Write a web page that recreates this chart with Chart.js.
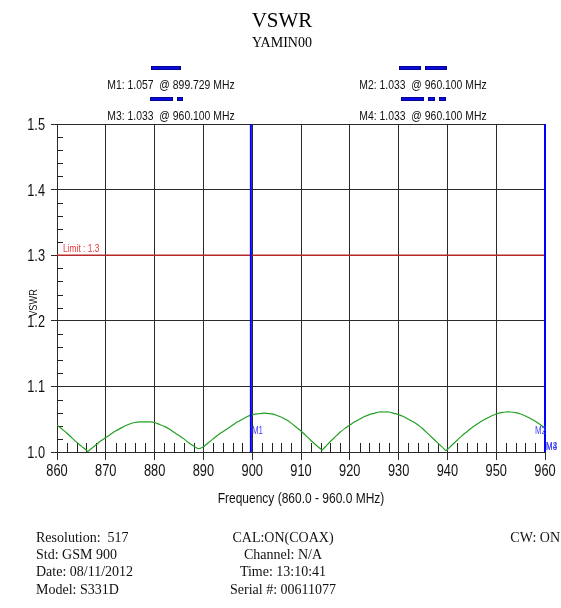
<!DOCTYPE html>
<html><head><meta charset="utf-8">
<script src="https://cdn.jsdelivr.net/npm/chart.js@4.4.1/dist/chart.umd.min.js"></script>
<style>html,body{margin:0;padding:0;background:#fff;}#wrap{width:561px;height:608px;}</style>
</head><body><div id="wrap"><canvas id="c" width="561" height="608"></canvas></div>
<script>
// ---- data ----
const freqMHz = [860,861,862,863,864,865,866,866.3,867,868,869,870,871,872,873,874,875,876,877,878,879,880,881,882,883,884,885,886,887,888,889,
  890,891,892,893,894,895,896,897,898,899,900,901,902,903,904,905,906,907,908,909,910,911,912,913,914,914.3,
  915,916,917,918,919,920,921,922,923,924,925,926,927,928,929,930,931,932,933,934,935,936,937,938,939,939.7,
  940,941,942,943,944,945,946,947,948,949,950,951,952,953,954,955,956,957,958,959,960];
const vswr = [1.041,1.035,1.029,1.022,1.015,1.009,1.003,1.001,1.005,1.011,1.017,1.022,1.027,1.032,1.036,1.040,1.043,1.045,1.046,1.046,1.046,1.045,1.042,1.039,1.035,1.030,1.025,1.020,1.014,1.009,1.005,
  1.008,1.014,1.020,1.026,1.031,1.036,1.041,1.046,1.050,1.054,1.057,1.058,1.059,1.059,1.058,1.056,1.053,1.049,1.044,1.038,1.032,1.025,1.018,1.011,1.005,1.003,
  1.008,1.016,1.023,1.030,1.036,1.041,1.046,1.050,1.054,1.057,1.059,1.061,1.061,1.061,1.059,1.057,1.054,1.050,1.046,1.041,1.035,1.028,1.021,1.014,1.007,1.002,
  1.004,1.011,1.018,1.025,1.031,1.037,1.042,1.047,1.051,1.055,1.058,1.060,1.061,1.061,1.060,1.058,1.055,1.051,1.047,1.042,1.036];
const limitFreq = [860, 960];
const limitVswr = [1.3, 1.3];
const xTickValues = [860,870,880,890,900,910,920,930,940,950,960];
const yTickValues = [1.0,1.1,1.2,1.3,1.4,1.5];
const markerNames = ['M1','M2','M3','M4'];
const markerValues = [1.057, 1.033, 1.033, 1.033];
const markerFreqs = [899.729, 960.100, 960.100, 960.100];
const chartTitle = 'VSWR';
const chartSubtitle = 'YAMIN00';
const xTitle = 'Frequency (860.0 - 960.0 MHz)';
const yTitle = 'VSWR';
const limitLabel = 'Limit : 1.3';
const infoLeft = ['Resolution:  517','Std: GSM 900','Date: 08/11/2012','Model: S331D'];
const infoCenter = ['CAL:ON(COAX)','Channel: N/A','Time: 13:10:41','Serial #: 00611077'];
const infoRight = ['CW: ON'];

// ---- font detection ----
const mctx = document.createElement('canvas').getContext('2d');
mctx.font = "40px monospace"; const wMono = mctx.measureText('Frequency 860').width;
mctx.font = "40px 'Liberation Sans Narrow', monospace"; const wNar = mctx.measureText('Frequency 860').width;
const HAS_NARROW = Math.abs(wMono - wNar) > 1;
const SANS = HAS_NARROW ? "'Liberation Sans Narrow'" : "'Liberation Sans', Arial, sans-serif";
const SX = HAS_NARROW ? 1 : 0.8;
const SERIF = "'Liberation Serif', 'Times New Roman', serif";

function sText(ctx, txt, x, y, size, align, color) {
  ctx.save();
  ctx.font = size + 'px ' + SANS;
  ctx.fillStyle = color; ctx.textBaseline = 'alphabetic';
  ctx.translate(x, y); ctx.scale(SX, 1);
  ctx.textAlign = align;
  ctx.fillText(txt, 0, 0);
  ctx.restore();
}

const BLUE = '#0000ff';
const deco = {
  id: 'deco',
  beforeDatasetsDraw(chart) {
    const ctx = chart.ctx, xs = chart.scales.x, ys = chart.scales.y;
    const a = chart.chartArea;
    ctx.save();
    ctx.strokeStyle = '#222'; ctx.lineWidth = 1;
    ctx.beginPath();
    for (let f = xs.min + 2; f < xs.max; f += 2) {
      if (Math.round(f) % 10 === 0) continue;
      const px = Math.round(xs.getPixelForValue(f)) + 0.5;
      ctx.moveTo(px, a.bottom); ctx.lineTo(px, a.bottom - 9);
    }
    for (let k = 1; k < 25; k++) {
      if (k % 5 === 0) continue;
      const v = ys.min + k * 0.02;
      const py = Math.round(ys.getPixelForValue(v)) + 0.5;
      ctx.moveTo(a.left, py); ctx.lineTo(a.left + 6, py);
    }
    ctx.stroke();
    ctx.restore();
  },
  afterDraw(chart) {
    const ctx = chart.ctx, xs = chart.scales.x, ys = chart.scales.y;
    const a = chart.chartArea;
    // tick labels (condensed), placed by the library's scales
    xs.ticks.forEach(t => sText(ctx, String(t.value), xs.getPixelForValue(t.value), a.bottom + 24, 16, 'center', '#111'));
    ys.ticks.forEach(t => sText(ctx, Number(t.value).toFixed(1), 45, ys.getPixelForValue(t.value) + 6, 16, 'right', '#111'));
    // marker lines
    ctx.save();
    ctx.strokeStyle = BLUE; ctx.lineWidth = 2;
    markerFreqs.forEach(f => {
      const fc = Math.min(Math.max(f, xs.min), xs.max);
      const px = xs.getPixelForValue(fc);
      ctx.beginPath(); ctx.moveTo(px, a.top); ctx.lineTo(px, a.bottom); ctx.stroke();
    });
    ctx.restore();
    // marker labels on plot
    const mcol = '#4040ff';
    const m1x = xs.getPixelForValue(markerFreqs[0]);
    sText(ctx, markerNames[0], m1x + 1, ys.getPixelForValue(1.027), 10, 'left', mcol);
    sText(ctx, markerNames[1], a.right - 10, ys.getPixelForValue(1.027), 10, 'left', mcol);
    sText(ctx, markerNames[2], a.right + 1, ys.getPixelForValue(1.003), 10, 'left', mcol);
    sText(ctx, markerNames[3], a.right + 1, ys.getPixelForValue(1.003), 10, 'left', mcol);
    // limit label
    sText(ctx, limitLabel, a.left + 6, ys.getPixelForValue(1.3) - 3, 10.5, 'left', '#e8383a');

    // titles
    ctx.save();
    ctx.fillStyle = '#000'; ctx.textAlign = 'center';
    ctx.font = '21px ' + SERIF; ctx.fillText(chartTitle, 282, 27);
    ctx.font = '14px ' + SERIF; ctx.fillText(chartSubtitle, 282, 47);
    ctx.restore();

    // marker header
    const hdr = (i, cx, y) => sText(ctx, markerNames[i] + ': ' + markerValues[i].toFixed(3) + '  @ ' + markerFreqs[i].toFixed(3) + ' MHz', cx, y, 13, 'center', '#111');
    const bar = (x, y, w) => { ctx.fillStyle = '#0a0ae0'; ctx.fillRect(x, y, w, 4); ctx.strokeStyle='#000060'; ctx.lineWidth=0.6; ctx.strokeRect(x+0.3,y+0.3,w-0.6,3.4); };
    bar(151, 66, 30);
    hdr(0, 171, 89);
    bar(150, 97, 23); bar(177, 97, 6);
    hdr(2, 171, 120);
    bar(399, 66, 22); bar(425, 66, 22);
    hdr(1, 423, 89);
    bar(401, 97, 23); bar(428, 97, 7); bar(439, 97, 7);
    hdr(3, 423, 120);

    // axis titles
    sText(ctx, xTitle, (a.left + a.right) / 2, 503, 15, 'center', '#111');
    ctx.save();
    ctx.translate(37, 303); ctx.rotate(-Math.PI / 2);
    sText(ctx, yTitle, 0, 0, 11.5, 'center', '#111');
    ctx.restore();

    // info block
    ctx.save();
    ctx.fillStyle = '#111'; ctx.font = '14px ' + SERIF;
    const base = [542, 559, 576, 594];
    ctx.textAlign = 'left'; infoLeft.forEach((t, i) => ctx.fillText(t, 36, base[i]));
    ctx.textAlign = 'center'; infoCenter.forEach((t, i) => ctx.fillText(t, 283, base[i]));
    ctx.textAlign = 'right'; infoRight.forEach((t, i) => ctx.fillText(t, 560, base[i]));
    ctx.restore();
  }
};

Chart.defaults.font.family = SANS;
new Chart(document.getElementById('c'), {
  type: 'line',
  data: {
    datasets: [
      { label: 'VSWR', data: freqMHz.map((f, i) => ({x: f, y: vswr[i]})), borderColor: '#22a022', borderWidth: 1.2, pointRadius: 0, tension: 0.25, order: 2 },
      { label: 'Limit', data: limitFreq.map((f, i) => ({x: f, y: limitVswr[i]})), borderColor: '#b82828', borderWidth: 1.6, pointRadius: 0, order: 1 }
    ]
  },
  options: {
    responsive: false, animation: false, devicePixelRatio: 1,
    layout: { padding: { top: 124, left: 0, right: 16, bottom: 0 } },
    plugins: { legend: { display: false }, tooltip: { enabled: false }, title: { display: false } },
    scales: {
      x: {
        type: 'linear', min: 860, max: 960,
        afterFit(s) { s.height = 156; },
        afterBuildTicks(s) { s.ticks = xTickValues.map(v => ({value: v})); },
        grid: { color: '#2a2a2a', lineWidth: 1, tickLength: 8, drawTicks: true },
        border: { color: '#2a2a2a', width: 1 },
        ticks: { display: false }
      },
      y: {
        type: 'linear', min: 1.0, max: 1.5,
        afterFit(s) { s.width = 57; },
        afterBuildTicks(s) { s.ticks = yTickValues.map(v => ({value: v})); },
        grid: { color: '#2a2a2a', lineWidth: 1, tickLength: 6, drawTicks: true },
        border: { color: '#2a2a2a', width: 1 },
        ticks: { display: false }
      }
    }
  },
  plugins: [deco]
});
</script>
</body></html>
